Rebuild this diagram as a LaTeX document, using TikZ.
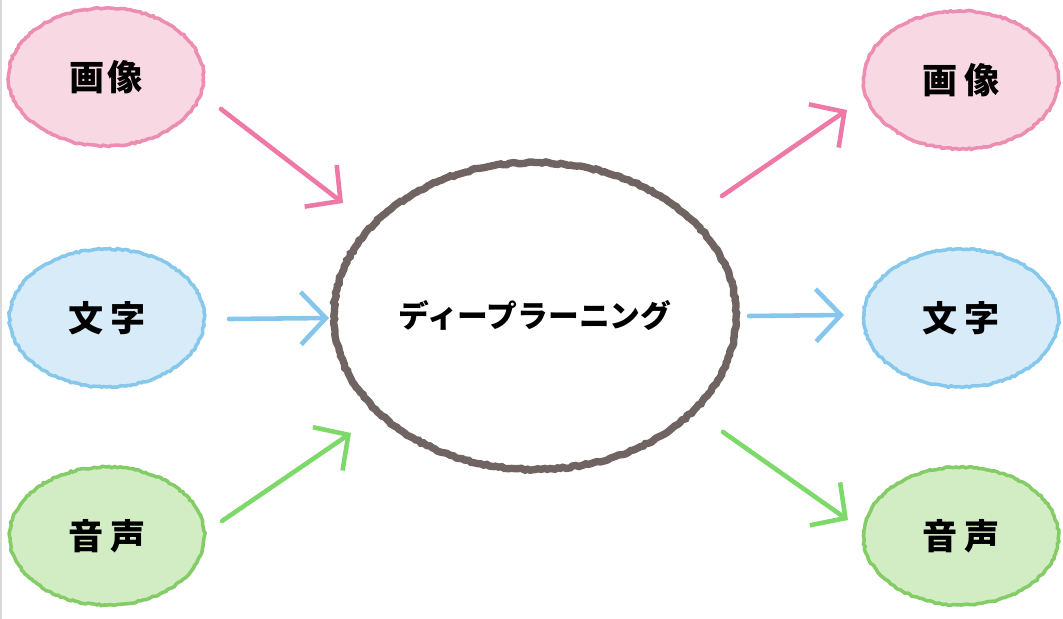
\documentclass[tikz,border=0pt]{standalone}
\usepackage{fontspec}
\newfontfamily\jp{Noto Sans CJK JP}
\usetikzlibrary{shapes.geometric,arrows.meta,decorations.pathmorphing}
\definecolor{pinkedge}{HTML}{EC8DB1}
\definecolor{pinkfill}{HTML}{F7D8E3}
\definecolor{blueedge}{HTML}{86C8EC}
\definecolor{bluefill}{HTML}{D7ECF8}
\definecolor{greenedge}{HTML}{84CC66}
\definecolor{greenfill}{HTML}{D2EDC4}
\definecolor{pinkarrow}{HTML}{EE78A6}
\definecolor{bluearrow}{HTML}{86C6EC}
\definecolor{greenarrow}{HTML}{7DD96A}
\definecolor{ringcol}{HTML}{6F6461}
\tikzset{
  blob/.style={ellipse, minimum width=3.9cm, minimum height=2.76cm, inner sep=0pt,
    line width=2pt, decorate, decoration={random steps, segment length=1.5pt, amplitude=0.45pt},
    font=\jp\bfseries\fontsize{20}{20}\selectfont},
  pinkblob/.style={blob, draw=pinkedge, fill=pinkfill},
  blueblob/.style={blob, draw=blueedge, fill=bluefill},
  greenblob/.style={blob, draw=greenedge, fill=greenfill},
  crayon/.style={line width=2.6pt, line cap=round, line join=round,
    -{Straight Barb[length=0.5cm, width=1.05cm, line width=2.6pt]}},
}
\begin{document}
\begin{tikzpicture}[x=0.02cm, y=-0.02cm]
\useasboundingbox (0,0) rectangle (1063,619);
\fill[white] (0,0) rectangle (1063,619);
\draw[black!15, line width=0.6pt] (1,0) -- (1,619);
% left
\node[pinkblob]  (limg) at (106,77)  {画\hspace{0.1em}像};
\node[blueblob]  (ltxt) at (107,318) {文\hspace{0.2em}字};
\node[greenblob] (lsnd) at (107,536) {音\hspace{0.2em}声};
% right
\node[pinkblob]  (rimg) at (961,80)  {画\hspace{0.2em}像};
\node[blueblob]  (rtxt) at (961,318) {文\hspace{0.2em}字};
\node[greenblob] (rsnd) at (961,536) {音\hspace{0.2em}声};
% center
\node[ellipse, minimum width=7.68cm, minimum height=6.14cm, draw=ringcol, line width=4.2pt,
  decorate, decoration={random steps, segment length=1.8pt, amplitude=0.5pt},
  font=\jp\bfseries\fontsize{17.5}{17.5}\selectfont] (dl) at (535,316) {ディープラーニング};
% arrow end coordinates
\coordinate (a1s) at (221,109); \coordinate (a1e) at (343,203);
\coordinate (a2s) at (229,319); \coordinate (a2e) at (329,318);
\coordinate (a3s) at (222,521); \coordinate (a3e) at (351,433);
\coordinate (b1s) at (722,196); \coordinate (b1e) at (847,110);
\coordinate (b2s) at (749,316); \coordinate (b2e) at (844,315);
\coordinate (b3s) at (723,432); \coordinate (b3e) at (848,520);
\draw[crayon, pinkarrow]  (a1s) -- (a1e);
\draw[crayon, bluearrow]  (a2s) -- (a2e);
\draw[crayon, greenarrow] (a3s) -- (a3e);
\draw[crayon, pinkarrow]  (b1s) -- (b1e);
\draw[crayon, bluearrow]  (b2s) -- (b2e);
\draw[crayon, greenarrow] (b3s) -- (b3e);
\end{tikzpicture}
\end{document}
